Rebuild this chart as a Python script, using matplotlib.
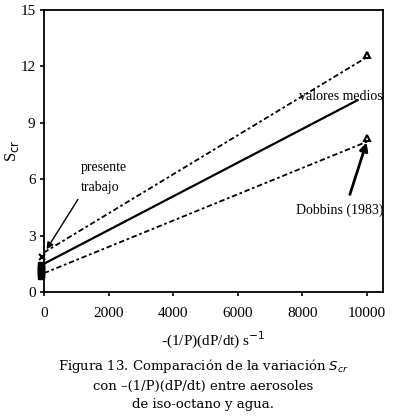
import matplotlib
matplotlib.use("Agg")
import matplotlib.pyplot as plt

# Data
x_line = [0, 10000]
upper = [2.1, 12.5]
mean_x = [0, 9700]
mean = [1.5, 10.2]
lower = [1.0, 8.0]
dobbins_x = [10000, 10000]
dobbins_y = [12.6, 8.2]
present_x = [-90, -90, -90, -90, -90, -90, -90]
present_y = [0.85, 0.95, 1.05, 1.15, 1.25, 1.35, 1.45]
cross_x = [-60]
cross_y = [1.85]
xticks = [0, 2000, 4000, 6000, 8000, 10000]
yticks = [0, 3, 6, 9, 12, 15]

plt.rcParams['font.family'] = ['Liberation Serif', 'DejaVu Serif']
fig = plt.figure(figsize=(3.95, 4.16), dpi=100)
ax = fig.add_axes([0.111, 0.298, 0.859, 0.678])

ax.plot(x_line, upper, color='black', lw=1.3, dashes=(3, 1.5, 1.5, 1.5))
ax.plot(mean_x, mean, color='black', lw=1.6)
ax.plot(x_line, lower, color='black', lw=1.3, dashes=(3, 1.5, 1.5, 1.5))
ax.plot(dobbins_x, dobbins_y, ls='none', marker='^', ms=5, mfc='white',
        mec='black', mew=1.5)
ax.plot(present_x, present_y, ls='none', marker='s', ms=5, color='black',
        clip_on=False, zorder=5)
ax.plot(cross_x, cross_y, ls='none', marker='x', ms=5, color='black', mew=1.5,
        clip_on=False, zorder=5)

ax.set_xlim(0, 10495)
ax.set_ylim(0, 15)
ax.set_xticks(xticks)
ax.set_yticks(yticks)
ax.tick_params(labelsize=11, direction='out', length=3, width=1.2)
ax.tick_params(axis='x', pad=8)
ax.tick_params(axis='y', pad=3)
for s in ax.spines.values():
    s.set_linewidth(1.3)

ax.set_xlabel('-(1/P)(dP/dt) s$^{-1}$', fontsize=11, labelpad=7)
ax.set_ylabel('S$_{\\mathrm{cr}}$', fontsize=12)
ax.yaxis.set_label_coords(-0.068, 0.5)

ax.text(1150, 6.6, 'presente', fontsize=10, va='center')
ax.text(1150, 5.55, 'trabajo', fontsize=10, va='center')
ax.annotate('', xy=(40, 2.15), xytext=(1100, 5.05),
            arrowprops=dict(arrowstyle='-|>', color='black', lw=1.0))
ax.text(10490, 10.2, 'valores medios', fontsize=10, ha='right', va='baseline')
ax.text(10490, 4.35, 'Dobbins (1983)', fontsize=10, ha='right', va='center')
ax.annotate('', xy=(10010, 8.1), xytext=(9440, 5.05),
            arrowprops=dict(arrowstyle='-|>', color='black', lw=2.0,
                            mutation_scale=12))

cap = ('Figura 13. Comparación de la variación $S_{cr}$\n'
       'con \u2013(1/P)(dP/dt) entre aerosoles\n'
       'de iso-octano y agua.')
fig.text(0.515, 0.142, cap, ha='center', va='top', fontsize=9.5,
         family=['DejaVu Serif'], linespacing=1.5)

fig.savefig('out.png', dpi=100)
